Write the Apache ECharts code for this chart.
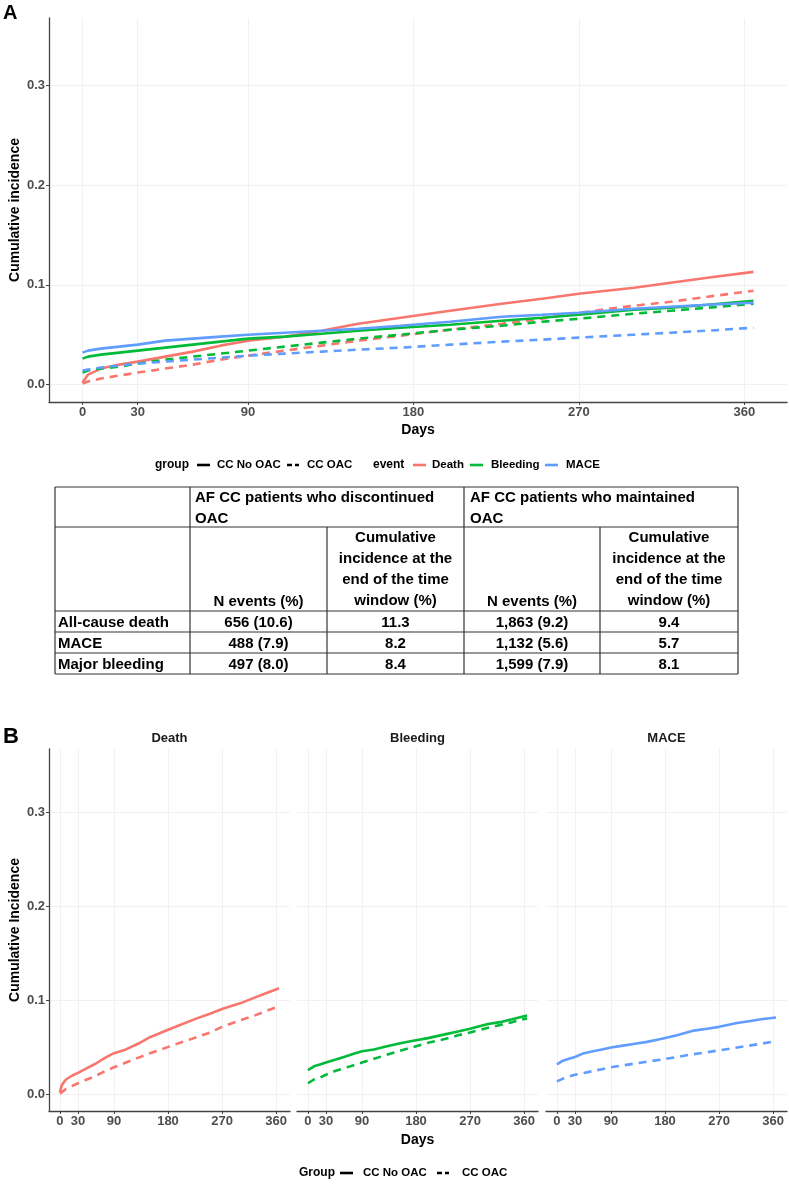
<!DOCTYPE html>
<html>
<head>
<meta charset="utf-8">
<script src="https://cdn.jsdelivr.net/npm/echarts@6/dist/echarts.min.js"></script>
<style>
  html, body { margin: 0; padding: 0; background: #fff; }
  #main { width: 789px; height: 1184px; }
</style>
</head>
<body>
<div id="main"></div>
<script>
  // ---- data ----
  var days = [0, 3, 10, 20, 30, 45, 60, 75, 90, 110, 130, 150, 173, 200, 228, 250, 270, 300, 320, 340, 365];

  // CC No OAC (solid)
  var deathNoOac    = [0.002, 0.010, 0.016, 0.020, 0.023, 0.028, 0.033, 0.039, 0.044, 0.048, 0.054, 0.061, 0.067, 0.074, 0.081, 0.086, 0.091, 0.097, 0.102, 0.107, 0.113];
  var bleedingNoOac = [0.026, 0.028, 0.030, 0.032, 0.034, 0.037, 0.040, 0.043, 0.046, 0.048, 0.051, 0.054, 0.057, 0.060, 0.064, 0.067, 0.070, 0.075, 0.077, 0.080, 0.084];
  var maceNoOac     = [0.032, 0.034, 0.036, 0.038, 0.040, 0.044, 0.046, 0.048, 0.050, 0.052, 0.054, 0.056, 0.059, 0.063, 0.068, 0.070, 0.072, 0.076, 0.078, 0.080, 0.082];
  // CC OAC (dashed)
  var deathOac      = [0.001, 0.003, 0.006, 0.009, 0.012, 0.016, 0.020, 0.025, 0.029, 0.034, 0.039, 0.044, 0.049, 0.055, 0.061, 0.066, 0.072, 0.079, 0.083, 0.088, 0.094];
  var bleedingOac   = [0.012, 0.014, 0.016, 0.018, 0.021, 0.025, 0.028, 0.031, 0.034, 0.038, 0.042, 0.046, 0.050, 0.055, 0.059, 0.063, 0.066, 0.071, 0.074, 0.077, 0.081];
  var maceOac       = [0.014, 0.015, 0.017, 0.019, 0.021, 0.023, 0.025, 0.027, 0.029, 0.031, 0.033, 0.035, 0.037, 0.040, 0.043, 0.045, 0.047, 0.050, 0.052, 0.054, 0.057];

  var events = ['Death', 'Bleeding', 'MACE'];
  var groups = ['CC No OAC', 'CC OAC'];
  var eventColors = ['#F8766D', '#00BA38', '#619CFF'];
  var dayTicks = [0, 30, 90, 180, 270, 360];
  var yTicks = [0, 0.1, 0.2, 0.3];

  var curves = [
    [deathNoOac, deathOac],
    [bleedingNoOac, bleedingOac],
    [maceNoOac, maceOac]
  ];

  // table
  var tableTop = ['AF CC patients who discontinued\nOAC', 'AF CC patients who maintained\nOAC'];
  var tableSub = ['N events (%)', 'Cumulative\nincidence at the\nend of the time\nwindow (%)'];
  var tableRows = ['All-cause death', 'MACE', 'Major bleeding'];
  var nEventsDisc = ['656 (10.6)', '488 (7.9)', '497 (8.0)'];
  var cumDisc = ['11.3', '8.2', '8.4'];
  var nEventsMaint = ['1,863 (9.2)', '1,132 (5.6)', '1,599 (7.9)'];
  var cumMaint = ['9.4', '5.7', '8.1'];

  var FONT = 'Liberation Sans, Arial, sans-serif';
  var dashPat = [8, 6];

  var myChart = echarts.init(document.getElementById('main'), null, { renderer: 'canvas' });

  var grids = [
    { left: 49, top: 18, width: 738, height: 384, containLabel: false, outerBoundsMode: 'none' },
    { left: 49, top: 749, width: 241, height: 362, containLabel: false, outerBoundsMode: 'none' },
    { left: 297, top: 749, width: 241, height: 362, containLabel: false, outerBoundsMode: 'none' },
    { left: 546, top: 749, width: 241, height: 362, containLabel: false, outerBoundsMode: 'none' }
  ];

  function xAxisFor(i, name, gap) {
    return {
      type: 'value', gridIndex: i, min: -18.25, max: 383.25,
      name: name || '', nameLocation: 'middle', nameGap: gap || 20, nameMoveOverlap: false,
      nameTextStyle: { fontFamily: FONT, fontWeight: 'bold', fontSize: 14, color: '#000' },
      axisLine: { show: true, onZero: false, lineStyle: { color: '#444', width: 1.3 } },
      axisTick: { show: true, length: 3, customValues: dayTicks, lineStyle: { color: '#444' } },
      axisLabel: { customValues: dayTicks, fontFamily: FONT, fontWeight: 'bold', fontSize: 13, color: '#4d4d4d', margin: 4 },
      splitLine: { show: true, lineStyle: { color: '#f1f1f1', width: 1 } }
    };
  }

  function yAxisFor(i, name, showAxis) {
    return {
      type: 'value', gridIndex: i, min: -0.0175, max: 0.3675,
      name: name || '', nameLocation: 'middle', nameGap: 27, nameMoveOverlap: false,
      nameTextStyle: { fontFamily: FONT, fontWeight: 'bold', fontSize: 14, color: '#000' },
      axisLine: { show: showAxis, onZero: false, lineStyle: { color: '#444', width: 1.3 } },
      axisTick: { show: showAxis, length: 3, customValues: yTicks, lineStyle: { color: '#444' } },
      axisLabel: {
        show: showAxis, customValues: yTicks, fontFamily: FONT, fontWeight: 'bold', fontSize: 13, color: '#4d4d4d', margin: 4,
        formatter: function (v) { return v.toFixed(1); }
      },
      splitLine: { show: true, lineStyle: { color: '#f1f1f1', width: 1 } }
    };
  }

  function funseries() {
    var serie = [];
    // panel A : every event, both groups
    for (var e = 0; e < events.length; e++) {
      for (var g = 0; g < groups.length; g++) {
        serie.push(makeLine(events[e] + ' ' + groups[g], curves[e][g], e, g, 0));
      }
    }
    // panel B : one facet per event
    for (var f = 0; f < events.length; f++) {
      for (var h = 0; h < groups.length; h++) {
        serie.push(makeLine('B ' + events[f] + ' ' + groups[h], curves[f][h], f, h, f + 1));
      }
    }
    return serie;
  }

  function makeLine(name, vals, e, g, idx) {
    return {
      name: name, type: 'line', xAxisIndex: idx, yAxisIndex: idx,
      data: days.map(function (d, i) { return [d, vals[i]]; }),
      showSymbol: false, symbol: 'none', silent: true,
      lineStyle: { color: eventColors[e], width: 2.6, type: g === 0 ? 'solid' : dashPat, cap: 'butt' },
      itemStyle: { color: eventColors[e] }
    };
  }

  // ---- graphic helpers ----
  function txt(x, y, text, extra) {
    var st = { text: text, font: 'bold 13px ' + FONT, fill: '#000', align: 'left', verticalAlign: 'middle' };
    for (var k in extra) st[k] = extra[k];
    return { type: 'text', x: x, y: y, silent: true, style: st };
  }
  function seg(x1, y1, x2, y2, stroke, w, dash) {
    return { type: 'line', silent: true, shape: { x1: x1, y1: y1, x2: x2, y2: y2 },
      style: { stroke: stroke, lineWidth: w, lineDash: dash || null } };
  }

  var gfx = [];
  // panel letters
  gfx.push(txt(3, 13, 'A', { font: 'bold 20px ' + FONT }));
  gfx.push(txt(3, 737, 'B', { font: 'bold 22px ' + FONT }));

  // facet strip labels
  for (var s = 0; s < events.length; s++) {
    var gb = grids[s + 1];
    gfx.push(txt(gb.left + gb.width / 2, 738, events[s], { align: 'center', fill: '#1a1a1a' }));
  }

  // legend A
  var ly = 465;
  gfx.push(txt(155, ly, 'group', { font: 'bold 12px ' + FONT }));
  gfx.push(seg(197, ly, 210, ly, '#000', 2.6));
  gfx.push(txt(217, ly, groups[0], { font: 'bold 11.5px ' + FONT }));
  gfx.push(seg(287, ly, 299, ly, '#000', 2.6, [5, 3]));
  gfx.push(txt(307, ly, groups[1], { font: 'bold 11.5px ' + FONT }));
  gfx.push(txt(373, ly, 'event', { font: 'bold 12px ' + FONT }));
  var evX = [[413, 432], [470, 491], [545, 566]];
  for (var le = 0; le < events.length; le++) {
    gfx.push(seg(evX[le][0], ly, evX[le][0] + 13, ly, eventColors[le], 2.6));
    gfx.push(txt(evX[le][1], ly, events[le], { font: 'bold 11.5px ' + FONT }));
  }

  // legend B
  var lyB = 1173;
  gfx.push(txt(299, lyB, 'Group', { font: 'bold 12px ' + FONT }));
  gfx.push(seg(340, lyB, 353, lyB, '#000', 2.6));
  gfx.push(txt(363, lyB, groups[0], { font: 'bold 11.5px ' + FONT }));
  gfx.push(seg(437, lyB, 449, lyB, '#000', 2.6, [5, 3]));
  gfx.push(txt(462, lyB, groups[1], { font: 'bold 11.5px ' + FONT }));

  // table
  var colX = [55, 190, 327, 464, 600, 738];
  var rowY = [487, 527, 611, 632, 653, 674];
  var TF = 'bold 15px ' + FONT;
  var lc = '#333';
  for (var r = 0; r < rowY.length; r++) gfx.push(seg(colX[0], rowY[r], colX[5], rowY[r], lc, 1.2));
  gfx.push(seg(colX[0], rowY[0], colX[0], rowY[5], lc, 1.2));
  gfx.push(seg(colX[1], rowY[0], colX[1], rowY[5], lc, 1.2));
  gfx.push(seg(colX[2], rowY[1], colX[2], rowY[5], lc, 1.2));
  gfx.push(seg(colX[3], rowY[0], colX[3], rowY[5], lc, 1.2));
  gfx.push(seg(colX[4], rowY[1], colX[4], rowY[5], lc, 1.2));
  gfx.push(seg(colX[5], rowY[0], colX[5], rowY[5], lc, 1.2));

  gfx.push(txt(colX[1] + 5, 487, tableTop[0], { font: TF, verticalAlign: 'top', lineHeight: 21 }));
  gfx.push(txt(colX[3] + 6, 487, tableTop[1], { font: TF, verticalAlign: 'top', lineHeight: 21 }));
  for (var c = 0; c < 2; c++) {
    var base = c === 0 ? 1 : 3;
    gfx.push(txt((colX[base] + colX[base + 1]) / 2, 602, tableSub[0], { font: TF, align: 'center' }));
    gfx.push(txt((colX[base + 1] + colX[base + 2]) / 2, 528, tableSub[1], { font: TF, align: 'center', verticalAlign: 'top', lineHeight: 20.7 }));
  }
  var cols = [nEventsDisc, cumDisc, nEventsMaint, cumMaint];
  for (var rr = 0; rr < tableRows.length; rr++) {
    var cy = (rowY[rr + 2] + rowY[rr + 3]) / 2 + 1;
    gfx.push(txt(colX[0] + 3, cy, tableRows[rr], { font: TF }));
    for (var cc = 0; cc < cols.length; cc++) {
      gfx.push(txt((colX[cc + 1] + colX[cc + 2]) / 2, cy, cols[cc][rr], { font: TF, align: 'center' }));
    }
  }

  myChart.setOption({
    animation: false,
    backgroundColor: '#fff',
    grid: grids,
    xAxis: [xAxisFor(0, 'Days', 21), xAxisFor(1), xAxisFor(2, 'Days', 22), xAxisFor(3)],
    yAxis: [yAxisFor(0, 'Cumulative incidence', true), yAxisFor(1, 'Cumulative Incidence', true), yAxisFor(2, '', false), yAxisFor(3, '', false)],
    series: funseries(),
    graphic: gfx
  });
</script>
</body>
</html>
